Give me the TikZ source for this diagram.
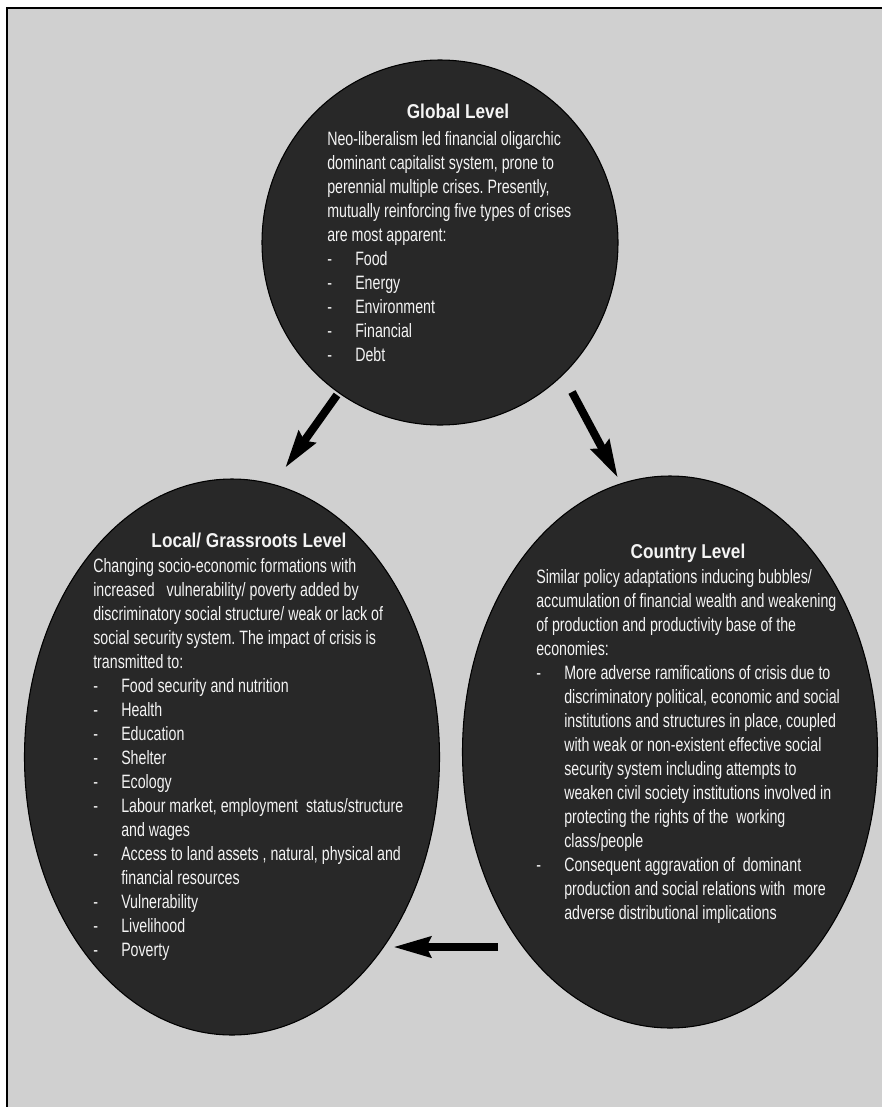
\documentclass[tikz,border=0pt]{standalone}
\usepackage{fontspec}
\setmainfont{Liberation Sans}[FakeStretch=0.735]
\newfontfamily\titlefont{Liberation Sans}[FakeStretch=0.86]
\usetikzlibrary{shapes.geometric,arrows.meta}
\definecolor{bg}{HTML}{D0D0D0}
\definecolor{ellfill}{HTML}{282828}
\definecolor{txt}{HTML}{F4F4F4}
\newcommand{\dsh}[1]{\makebox[21pt][l]{-}#1}
\newcommand{\cnt}[1]{\hspace*{21pt}#1}
\frenchspacing
\begin{document}
\begin{tikzpicture}[x=0.75pt,y=-0.75pt,
  ell/.style={ellipse, draw=black, line width=0.8pt, fill=ellfill, inner sep=0},
  ttl/.style={anchor=base, inner sep=0, text=txt, font=\titlefont\bfseries\fontsize{15}{18}\selectfont},
  body/.style={anchor=base west, inner sep=0, text=txt, font=\fontsize{14.5}{18}\selectfont\frenchspacing},
  bigarrow/.style={line width=6pt, -{Stealth[length=28pt,width=15pt,inset=3pt]}}]
\useasboundingbox (0,0) rectangle (882,1107);
\fill[white] (0,0) rectangle (882,1107);
\fill[bg] (7,8) rectangle (882,1107);
\draw[line width=1.5pt] (7,1107) -- (7,8) -- (882,8);

% ellipses
\node[ell, minimum width=267pt, minimum height=273.75pt] (global) at (440,242.5) {};
\node[ell, minimum width=311.25pt, minimum height=417pt] (local) at (232,757) {};
\node[ell, minimum width=311.25pt, minimum height=414pt] (country) at (670,752) {};

% global text
\node[ttl] (gtitle) at (458,118) {Global Level};
\node[body] (gbody) at (327,145) {\parbox[t]{300pt}{%
Neo-liberalism led financial oligarchic\\
dominant capitalist system, prone to\\
perennial multiple crises. Presently,\\
mutually reinforcing five types of crises\\
are most apparent:\\
\dsh{Food}\\
\dsh{Energy}\\
\dsh{Environment}\\
\dsh{Financial}\\
\dsh{Debt}}};

% local text
\node[ttl] (ltitle) at (249,547) {Local/ Grassroots Level};
\node[body] (lbody) at (93,572) {\parbox[t]{300pt}{%
Changing socio-economic formations with\\
increased\ \ \ vulnerability/ poverty added by\\
discriminatory social structure/ weak or lack of\\
social security system. The impact of crisis is\\
transmitted to:\\
\dsh{Food security and nutrition}\\
\dsh{Health}\\
\dsh{Education}\\
\dsh{Shelter}\\
\dsh{Ecology}\\
\dsh{Labour market, employment\ \ status/structure}\\
\cnt{and wages}\\
\dsh{Access to land assets , natural, physical and}\\
\cnt{financial resources}\\
\dsh{Vulnerability}\\
\dsh{Livelihood}\\
\dsh{Poverty}}};

% country text
\node[ttl] (ctitle) at (688,558) {Country Level};
\node[body] (cbody) at (536,583) {\parbox[t]{300pt}{%
Similar policy adaptations inducing bubbles/\\
accumulation of financial wealth and weakening\\
of production and productivity base of the\\
economies:\\
\dsh{More adverse ramifications of crisis due to}\\
\cnt{discriminatory political, economic and social}\\
\cnt{institutions and structures in place, coupled}\\
\cnt{with weak or non-existent effective social}\\
\cnt{security system including attempts to}\\
\cnt{weaken civil society institutions involved in}\\
\cnt{protecting the rights of the\ \ working}\\
\cnt{class/people}\\
\dsh{Consequent aggravation of\ \ dominant}\\
\cnt{production and social relations with\ \ more}\\
\cnt{adverse distributional implications}}};

% arrows
\coordinate (a1s) at (337,395);
\coordinate (a1e) at (285,468);
\coordinate (a2s) at (572,392);
\coordinate (a2e) at (618,478);
\coordinate (a3s) at (498,947);
\coordinate (a3e) at (393,947);
\draw[bigarrow] (a1s) -- (a1e);
\draw[bigarrow] (a2s) -- (a2e);
\draw[bigarrow] (a3s) -- (a3e);
\end{tikzpicture}
\end{document}
